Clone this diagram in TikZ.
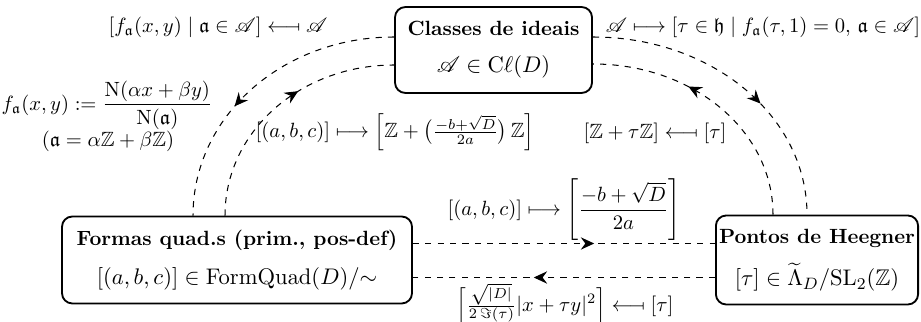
\documentclass[tikz,border=0pt]{standalone}
\usepackage{amsmath,amssymb,mathrsfs}
\usetikzlibrary{arrows.meta,decorations.markings,calc}
\newcommand{\lmapsfrom}{\mathrel{\reflectbox{$\longmapsto$}}}
\newcommand{\boxmath}{\fontsize{11}{13.5}\selectfont}
\newcommand{\boxhead}{\bfseries}
\tikzset{
  box/.style={draw,line width=0.9pt,rounded corners=5pt,align=center,inner sep=1.5pt},
  conn/.style={dashed,line width=0.5pt},
  midarr/.style={decoration={markings,mark=at position #1 with {\arrow{Stealth[length=6.5pt,width=6pt,inset=2.2pt]}}},postaction={decorate}},
  lbl/.style={inner sep=0pt}
}
\begin{document}
\begin{tikzpicture}[x=0.4854pt,y=-0.4854pt]
\useasboundingbox (0,0) rectangle (921,322);
\node[box,minimum width=95.6pt,minimum height=41.7pt] (cls) at (493.5,50)
  {{\boxhead Classes de ideais}\\[6pt]{\boxmath$\mathscr{A}\in\mathrm{C}\ell(D)$}};
\node[box,minimum width=169.9pt,minimum height=42.2pt] (fq) at (237,260)
  {{\boxhead Formas quad.s (prim., pos-def)}\\[7pt]{\boxmath$[(a,b,c)]\in\mathrm{FormQuad}(D)/{\sim}$}};
\node[box,minimum width=98.1pt,minimum height=43.2pt] (ph) at (817,260)
  {{\boxhead Pontos de Heegner}\\[7pt]{\boxmath$[\tau]\in\widetilde{\Lambda}_D/\mathrm{SL}_2(\mathbb{Z})$}};

% curved connectors
\draw[conn,midarr=0.6] ($(cls.west)+(0,-13)$) .. controls +(-111.6,0) and +(0,-99.4) .. ($(fq.north)+(-44,0)$);
\draw[conn,midarr=0.6] ($(fq.north)+(-12,0)$) .. controls +(0,-84) and +(-93.9,0) .. ($(cls.west)+(0,15)$);
\draw[conn,midarr=0.6] ($(cls.east)+(0,-13)$) .. controls +(118.7,0) and +(0,-98.9) .. ($(ph.north)+(-10,0)$);
\draw[conn,midarr=0.62] ($(ph.north)+(-44,0)$) .. controls +(0,-84) and +(100,0) .. ($(cls.east)+(0,14)$);

% horizontal connectors
\draw[conn,midarr=0.6] ($(fq.east)+(0,-16.5)$) -- ($(ph.west)+(0,-16.5)$);
\draw[conn,midarr=0.6] ($(ph.west)+(0,17.5)$) -- ($(fq.east)+(0,17.5)$);

% labels
\node[lbl] (l1) at (218,27) {$[f_{\mathfrak{a}}(x,y)\mid\mathfrak{a}\in\mathscr{A}]\lmapsfrom\mathscr{A}$};
\node[lbl] (l2) at (763,27) {$\mathscr{A}\longmapsto[\tau\in\mathfrak{h}\mid f_{\mathfrak{a}}(\tau,1)=0,\,\mathfrak{a}\in\mathscr{A}]$};
\node[lbl] (l3) at (107,105) {$f_{\mathfrak{a}}(x,y):=\dfrac{\mathrm{N}(\alpha x+\beta y)}{\mathrm{N}(\mathfrak{a})}$};
\node[lbl] (l4) at (108,141) {$(\mathfrak{a}=\alpha\mathbb{Z}+\beta\mathbb{Z})$};
\node[lbl] (l5) at (395,132) {$[(a,b,c)]\longmapsto\Big[\mathbb{Z}+\big(\tfrac{-b+\sqrt{D}}{2a}\big)\,\mathbb{Z}\Big]$};
\node[lbl] (l6) at (655,133) {$[\mathbb{Z}+\tau\mathbb{Z}]\lmapsfrom[\tau]$};
\node[lbl] (l7) at (564,210) {$[(a,b,c)]\longmapsto\left[\dfrac{-b+\sqrt{D}}{2a}\right]$};
\node[lbl] (l8) at (565,304) {$\Big[\tfrac{\sqrt{|D|}}{2\,\Im(\tau)}|x+\tau y|^2\Big]\lmapsfrom[\tau]$};
\end{tikzpicture}
\end{document}
